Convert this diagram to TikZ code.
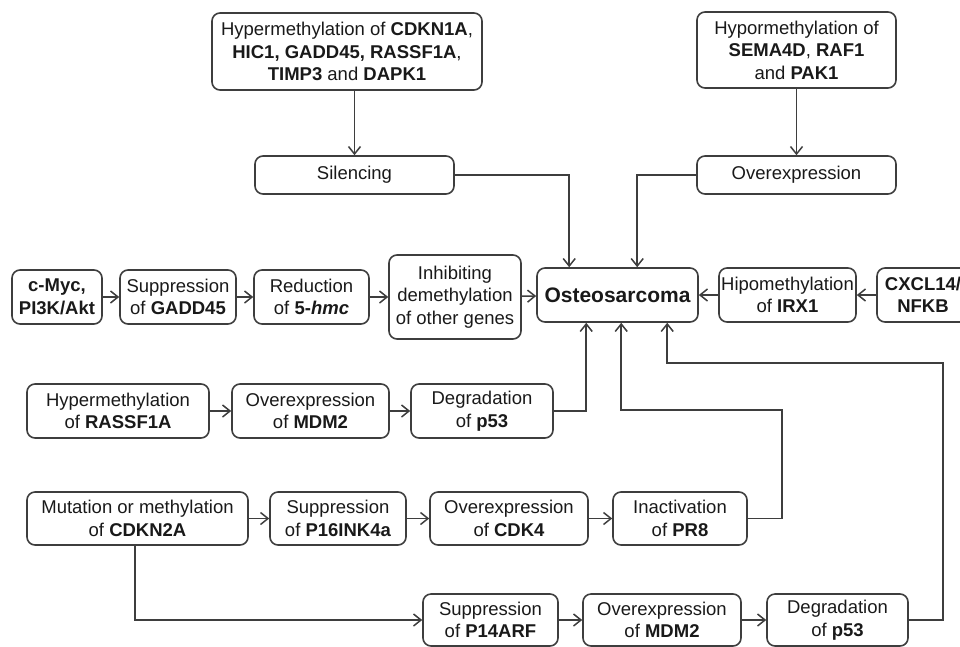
\documentclass[tikz,border=0pt]{standalone}
\usepackage{fontspec}
\setmainfont{Liberation Sans}
\usetikzlibrary{positioning, arrows.meta}

\definecolor{linegray}{RGB}{62,62,62}
\definecolor{textgray}{RGB}{25,25,25}

\tikzset{
  box/.style={draw=linegray, line width=1.6pt, rounded corners=8pt, align=center,
    inner sep=0pt, text=textgray, font=\fontsize{18.5}{22.5}\selectfont},
  conn/.style={draw=linegray, line width=1.5pt, -{Straight Barb[length=7.5pt,width=12pt]}},
}

\begin{document}
\begin{tikzpicture}[x=1pt, y=-1pt]
\useasboundingbox (0,0) rectangle (960,646);

% top branches
\node[box, minimum width=270pt, minimum height=77pt] (hyper) at (347,51.5) {Hypermethylation of \textbf{CDKN1A},\\ \textbf{HIC1, GADD45, RASSF1A},\\ \textbf{TIMP3} and \textbf{DAPK1}};
\node[box, minimum width=199pt, minimum height=38pt] (silencing) at (354.5,175) {Silencing};
\node[box, minimum width=199pt, minimum height=76pt] (hypo) at (796.5,50) {Hypormethylation of\\ \textbf{SEMA4D}, \textbf{RAF1}\\ and \textbf{PAK1}};
\node[box, minimum width=199pt, minimum height=38pt] (overexp) at (796.5,175) {Overexpression};

% middle row
\node[box, minimum width=161pt, minimum height=54pt, font=\fontsize{21}{24}\selectfont\bfseries] (osteo) at (617.5,295) {Osteosarcoma};
\node[box, minimum width=137pt, minimum height=54pt] (irx) at (787.5,295) {Hipomethylation\\ of \textbf{IRX1}};
\node[box, minimum width=92pt, minimum height=54pt, font=\fontsize{18.5}{22.5}\selectfont\bfseries] (cxcl) at (923,295) {CXCL14/\\ NFKB};
\node[box, minimum width=90pt, minimum height=54pt, font=\fontsize{18.5}{22.5}\selectfont\bfseries] (cmyc) at (57,297) {c-Myc,\\ PI3K/Akt};
\node[box, minimum width=116pt, minimum height=54pt] (gadd) at (178,297) {Suppression\\ of \textbf{GADD45}};
\node[box, minimum width=115pt, minimum height=54pt] (hmc) at (311.5,297) {Reduction\\ of \textbf{5-\textit{hmc}}};
\node[box, minimum width=132pt, minimum height=84pt] (inhib) at (455,297) {Inhibiting\\ demethylation\\ of other genes};

% RASSF1A row
\node[box, minimum width=182pt, minimum height=54pt] (rassf) at (118,411) {Hypermethylation\\ of \textbf{RASSF1A}};
\node[box, minimum width=157pt, minimum height=54pt] (mdmA) at (310.5,411) {Overexpression\\ of \textbf{MDM2}};
\node[box, minimum width=142pt, minimum height=54pt] (pfiftyA) at (482,411) {Degradation\\ of \textbf{p53}};

% CDKN2A row
\node[box, minimum width=221pt, minimum height=53pt] (cdkn) at (137.5,518.5) {Mutation or methylation\\ of \textbf{CDKN2A}};
\node[box, minimum width=136pt, minimum height=53pt] (psixteen) at (338,518.5) {Suppression\\ of \textbf{P16INK4a}};
\node[box, minimum width=158pt, minimum height=53pt] (cdkfour) at (509,518.5) {Overexpression\\ of \textbf{CDK4}};
\node[box, minimum width=134pt, minimum height=53pt] (preight) at (680,518.5) {Inactivation\\ of \textbf{PR8}};

% P14ARF row
\node[box, minimum width=135pt, minimum height=52pt] (pfourteen) at (490.5,620) {Suppression\\ of \textbf{P14ARF}};
\node[box, minimum width=158pt, minimum height=52pt] (mdmB) at (662,620) {Overexpression\\ of \textbf{MDM2}};
\node[box, minimum width=141pt, minimum height=52pt] (pfiftyB) at (837.5,620) {Degradation\\ of \textbf{p53}};

\coordinate (bendA) at (782,410);
\coordinate (bendB) at (943,363);

% connectors
\draw[conn] (hyper.south -| silencing) -- (silencing.north);
\draw[conn] (hypo.south) -- (overexp.north);
\draw[conn] (silencing.east) -| ([xshift=33pt]osteo.north west);
\draw[conn] (overexp.west) -| ([xshift=101pt]osteo.north west);

\draw[conn] (cmyc) -- (gadd);
\draw[conn] (gadd) -- (hmc);
\draw[conn] (hmc) -- (inhib);
\draw[conn] (inhib) -- (osteo);
\draw[conn] (cxcl) -- (irx);
\draw[conn] (irx) -- (osteo);

\draw[conn] (rassf) -- (mdmA);
\draw[conn] (mdmA) -- (pfiftyA);
\draw[conn] (pfiftyA.east) -| ([xshift=50pt]osteo.south west);

\draw[conn] (cdkn) -- (psixteen);
\draw[conn] (psixteen) -- (cdkfour);
\draw[conn] (cdkfour) -- (preight);
\draw[conn] (preight.east) -| (bendA) -| ([xshift=85pt]osteo.south west);

\draw[conn] ([xshift=-2.5pt]cdkn.south) |- (pfourteen.west);
\draw[conn] (pfourteen) -- (mdmB);
\draw[conn] (mdmB) -- (pfiftyB);
\draw[conn] (pfiftyB.east) -| (bendB) -| ([xshift=131pt]osteo.south west);
\end{tikzpicture}
\end{document}
